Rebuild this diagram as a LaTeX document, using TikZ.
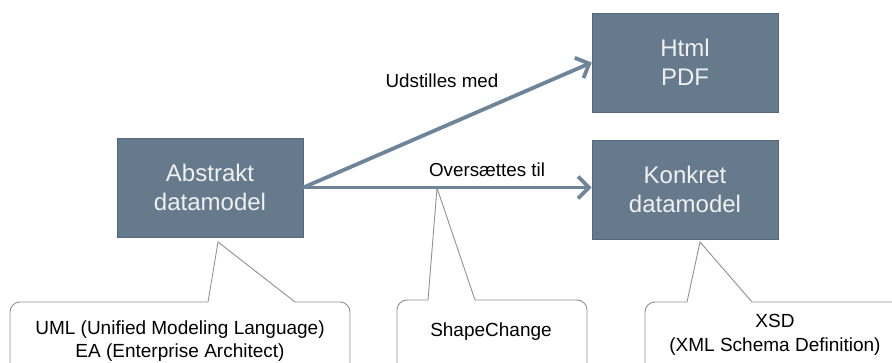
\documentclass[tikz,border=0pt]{standalone}
\usepackage{fontspec}
\setmainfont{Liberation Sans}
\usetikzlibrary{arrows.meta}
\definecolor{boxfill}{RGB}{102,122,141}
\definecolor{arrowc}{RGB}{110,132,152}
\definecolor{callc}{RGB}{145,145,145}
\begin{document}
\begin{tikzpicture}[x=1pt,y=-1pt,
  bluebox/.style={draw=boxfill!85!black, line width=0.6pt, fill=boxfill, text=white!94!black,
    minimum width=186pt, minimum height=99pt, inner sep=0pt, align=center,
    font=\fontsize{24}{29}\selectfont},
  flow/.style={draw=arrowc, line width=3.8pt, -{Straight Barb[length=11pt,width=22pt]}},
  lbl/.style={font=\fontsize{18.8}{22}\selectfont, anchor=base, inner sep=0pt},
  calltext/.style={font=\fontsize{19}{23.5}\selectfont, align=center, inner sep=0pt},
  callbody/.style={draw=callc, line width=0.9pt, fill=white, rounded corners=10pt},
  callwedge/.style={draw=callc, line width=0.9pt, fill=white}]
\useasboundingbox (0,0) rectangle (892,363);
\clip (0,0) rectangle (892,363);

% boxes
\node[bluebox] (abs)  at (210,187.5) {Abstrakt\\datamodel};
\node[bluebox] (html) at (685,62.5)  {Html\\PDF};
\node[bluebox] (kon)  at (685,189.5) {Konkret\\datamodel};

% callout tips
\coordinate (t1) at (218,242);
\coordinate (t2) at (437,188);
\coordinate (t3) at (700,242);

% callout 1
\path[callbody] (295,302) -- (350,302) -- (350,385) -- (10,385) -- (10,302) -- (208,302);
\path[callwedge] (208,302) -- (t1) -- (295,302);
% callout 2
\path[callbody] (475,300) -- (587,300) -- (587,385) -- (397,385) -- (397,300) -- (428,300);
\path[callwedge] (428,300) -- (t2) -- (475,300);
% callout 3
\path[callbody] (752,302) -- (905,302) -- (905,385) -- (645,385) -- (645,302) -- (687,302);
\path[callwedge] (687,302) -- (t3) -- (752,302);

\node[calltext] (uml) at (180,341) {UML (Unified Modeling Language)\\EA (Enterprise Architect)};
\node[calltext, anchor=base] (sc) at (491,337) {ShapeChange};
\node[calltext] (xsd) at (775,335) {XSD\\(XML Schema Definition)};

% arrows
\draw[flow] (abs.east) -- (abs.east -| kon.west);
\draw[flow] (abs.east) -- (html.west);

% labels
\node[lbl] (l1) at (442,88) {Udstilles med};
\node[lbl] (l2) at (487,177) {Oversættes til};
\end{tikzpicture}
\end{document}
